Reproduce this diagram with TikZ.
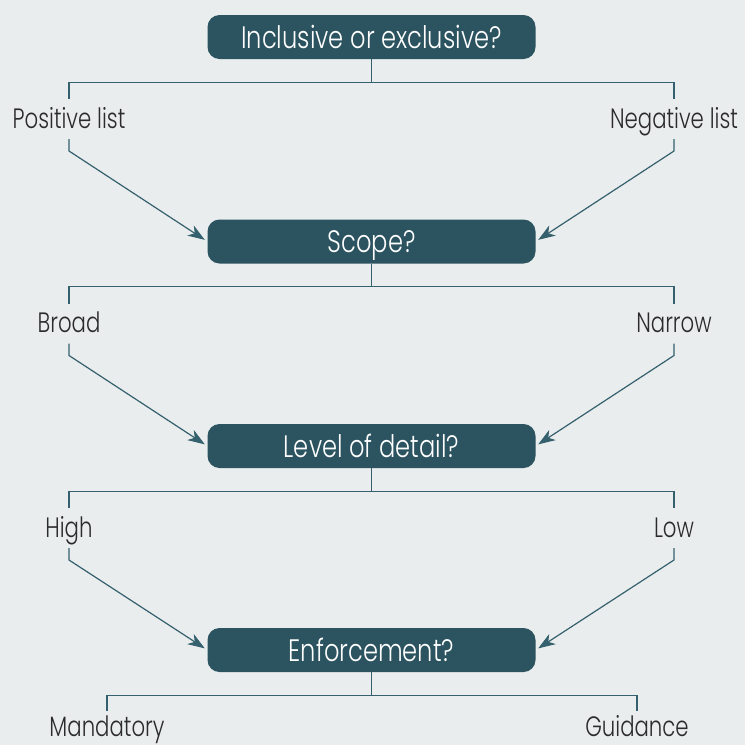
\documentclass[tikz,border=0pt]{standalone}
\usepackage{fontspec}
\setmainfont{Poppins}[UprightFont={* Light}, FakeStretch=0.76]
\newfontfamily\boxfont{Poppins}[UprightFont={* Light}, FakeStretch=0.78]
\usetikzlibrary{arrows.meta}
\definecolor{bgc}{HTML}{E9EDEE}
\definecolor{boxc}{HTML}{2B5360}
\definecolor{linec}{HTML}{35606D}
\definecolor{labc}{HTML}{2B2B2B}
\tikzset{
  qbox/.style={draw=none, fill=boxc, rounded corners=12pt, minimum width=328pt,
    minimum height=44pt, inner sep=0pt, text=white, text height=22pt, text depth=0pt,
    font=\boxfont\fontsize{31}{36}\selectfont},
  lab/.style={anchor=base, inner sep=0pt, text=labc, font=\fontsize{28}{32}\selectfont},
  tree/.style={draw=linec, line width=1.3pt},
  arr/.style={draw=linec, line width=1.2pt, shorten >=3pt,
    -{Stealth[length=17pt, width=12pt, inset=5pt]}},
}
\begin{document}
\begin{tikzpicture}[x=1pt, y=-1pt]
\fill[bgc] (0,0) rectangle (745,745);
\useasboundingbox (0,0) rectangle (745,745);
% boxes
\node[qbox] (b0) at (371.5,37) {Inclusive or exclusive?};
\node[qbox] (b1) at (371.5,241.5) {Scope?};
\node[qbox] (b2) at (371.5,446) {Level of detail?};
\node[qbox] (b3) at (371.5,650) {Enforcement?};
% labels
\node[lab] (l0L) at (69,128) {Positive list};
\node[lab] (l0R) at (674,128) {Negative list};
\node[lab] (l1L) at (69,332.5) {Broad};
\node[lab] (l1R) at (674,332.5) {Narrow};
\node[lab] (l2L) at (69,537) {High};
\node[lab] (l2R) at (674,537) {Low};
\node[lab] (l3L) at (107,736.5) {Mandatory};
\node[lab] (l3R) at (637,736.5) {Guidance};
% tick ends (upper) and starts (lower)
\coordinate (u0L) at (69,99);   \coordinate (u0R) at (674,99);
\coordinate (u1L) at (69,303.5);\coordinate (u1R) at (674,303.5);
\coordinate (u2L) at (69,508);  \coordinate (u2R) at (674,508);
\coordinate (u3L) at (107,711); \coordinate (u3R) at (637,711);
\coordinate (d0L) at (69,139);  \coordinate (d0R) at (674,139);
\coordinate (d1L) at (69,343.5);\coordinate (d1R) at (674,343.5);
\coordinate (d2L) at (69,548);  \coordinate (d2R) at (674,548);
% tree connectors
\foreach \k in {0,1,2,3}{
  \draw[tree] (b\k.south) -- ++(0,23) coordinate (m\k) -| (u\k L);
  \draw[tree] (m\k) -| (u\k R);
}
% arrows
\foreach \k/\n in {0/1,1/2,2/3}{
  \draw[arr] (d\k L) -- ++(0,12) -- (b\n.west);
  \draw[arr] (d\k R) -- ++(0,12) -- (b\n.east);
}
\end{tikzpicture}
\end{document}
